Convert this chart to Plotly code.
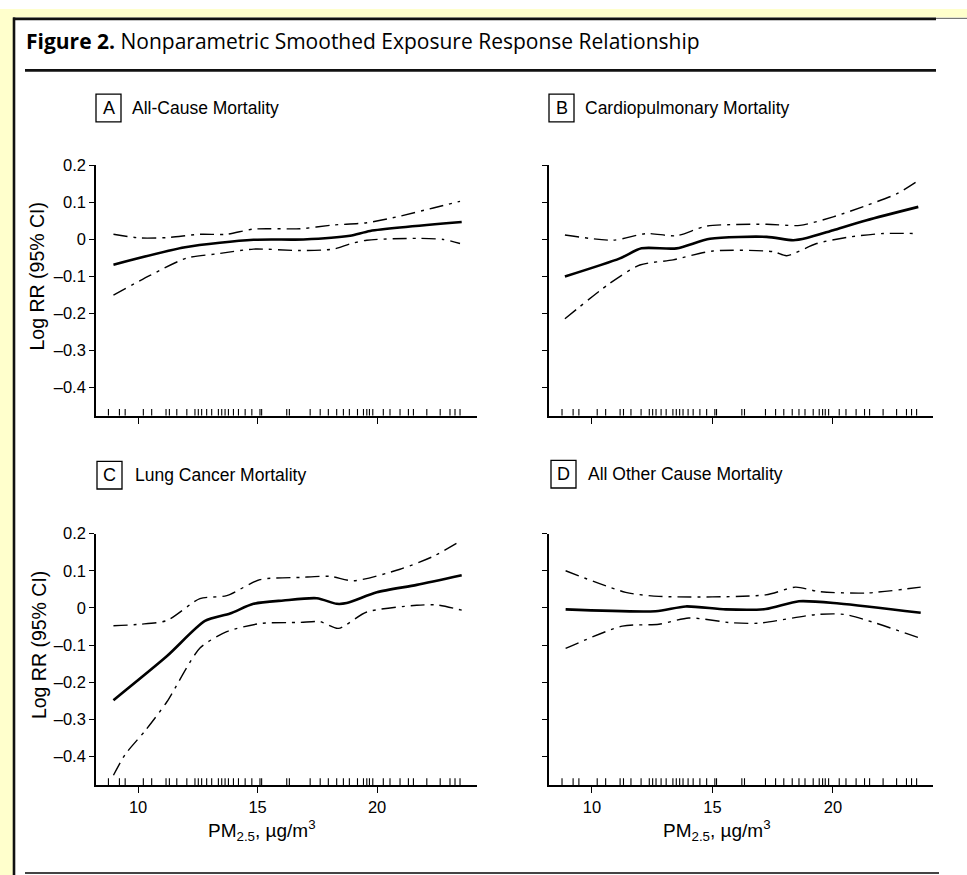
import plotly.graph_objects as go

W, H = 967, 875

FONT = "Liberation Sans, Arial, sans-serif"
TITLE_FONT = "Open Sans, Noto Sans, sans-serif"
YELLOW = "#FFFFCC"

# ---- data -------------------------------------------------------------
X_TICKS = [10, 15, 20]
Y_TICKS = [-0.4, -0.3, -0.2, -0.1, 0, 0.1, 0.2]

# PM2.5 concentrations of the study cities (rug along the x axis)
PM_RUG = [8.76, 9.22, 9.46, 10.22, 10.57, 11.17, 11.31, 11.62, 12.04, 12.38,
          12.52, 12.66, 12.87, 13.08, 13.36, 13.50, 13.64, 13.78, 13.99, 14.20,
          14.48, 14.76, 15.10, 15.17, 16.22, 16.33, 17.20, 17.62, 17.96, 18.31,
          18.59, 18.84, 19.18, 19.43, 19.57, 19.68, 19.82, 20.26, 20.54, 20.96,
          21.31, 21.52, 22.08, 22.64, 23.05, 23.26, 23.47]

# A  All-cause mortality
A_X = [8.97, 11.97, 14.83, 16.92, 18.87, 19.71, 23.54]
A_EST = [-0.068, -0.021, -0.001, 0.0, 0.010, 0.023, 0.047]
A_UP_X = [8.97, 10.08, 11.2, 12.59, 13.71, 14.83, 16.78, 18.17, 19.57, 20.96, 22.35, 23.47]
A_UP = [0.014, 0.004, 0.005, 0.014, 0.014, 0.028, 0.029, 0.039, 0.045, 0.063, 0.085, 0.103]
A_LO_X = [8.97, 10.5, 12.04, 13.29, 14.83, 16.78, 18.17, 18.87, 19.57, 21.66, 22.77, 23.47]
A_LO = [-0.150, -0.097, -0.050, -0.039, -0.026, -0.030, -0.026, -0.012, -0.002, 0.003, 0.0, -0.011]

# B  Cardiopulmonary mortality
B_X = [8.88, 11.16, 12.06, 13.51, 14.90, 17.25, 18.35, 18.91, 20.01, 21.40, 23.54]
B_EST = [-0.100, -0.051, -0.024, -0.024, 0.002, 0.007, -0.002, 0.004, 0.025, 0.052, 0.088]
B_UP_X = [8.88, 10.88, 12.27, 13.51, 14.76, 17.25, 18.63, 20.01, 21.40, 22.64, 23.54]
B_UP = [0.012, -0.002, 0.016, 0.010, 0.036, 0.041, 0.038, 0.061, 0.092, 0.123, 0.159]
B_LO_X = [8.88, 10.75, 11.99, 13.37, 15.03, 17.52, 18.08, 19.32, 20.71, 22.09, 23.54]
B_LO = [-0.214, -0.118, -0.069, -0.055, -0.031, -0.033, -0.044, -0.011, 0.007, 0.016, 0.016]

# C  Lung cancer mortality
C_X = [8.97, 11.2, 12.80, 13.85, 14.83, 16.08, 17.48, 18.31, 18.73, 19.99, 21.66, 23.54]
C_EST = [-0.248, -0.130, -0.035, -0.015, 0.011, 0.020, 0.026, 0.011, 0.013, 0.042, 0.062, 0.088]
C_UP_X = [8.97, 10.08, 11.2, 12.59, 13.71, 15.10, 16.78, 18.03, 19.01, 20.96, 22.36, 23.47]
C_UP = [-0.048, -0.044, -0.034, 0.025, 0.033, 0.076, 0.082, 0.085, 0.073, 0.104, 0.139, 0.179]
C_LO_X = [8.97, 9.46, 10.3, 11.2, 12.59, 13.71, 15.10, 16.78, 17.62, 18.38, 19.57, 21.66, 22.5, 23.54]
C_LO = [-0.450, -0.394, -0.330, -0.253, -0.108, -0.064, -0.042, -0.039, -0.037, -0.055, -0.011, 0.007, 0.008, -0.006]

# D  All other cause mortality
D_X = [8.91, 12.64, 13.89, 15.55, 17.21, 18.59, 20.25, 23.64]
D_EST = [-0.004, -0.009, 0.004, -0.004, -0.003, 0.018, 0.012, -0.013]
D_UP_X = [8.91, 11.40, 12.78, 17.21, 18.45, 19.42, 21.36, 23.64]
D_UP = [0.100, 0.042, 0.031, 0.035, 0.056, 0.044, 0.040, 0.056]
D_LO_X = [8.91, 11.26, 12.78, 14.02, 15.82, 16.93, 19.28, 20.52, 23.64]
D_LO = [-0.109, -0.049, -0.044, -0.027, -0.040, -0.041, -0.018, -0.018, -0.082]

PANEL_LETTERS = ["A", "B", "C", "D"]
PANEL_TITLES = ["All-Cause Mortality", "Cardiopulmonary Mortality",
                "Lung Cancer Mortality", "All Other Cause Mortality"]
Y_TITLE = "Log RR (95% CI)"
X_TITLE = "PM<sub>2.5</sub>, µg/m<sup>3</sup>"
FIG_TITLE = "<b>Figure 2.</b> Nonparametric Smoothed Exposure Response Relationship"

Y_RANGE = [-0.476, 0.2]
X_RANGE_LEFT = [8.24, 24.18]
X_RANGE_RIGHT = [8.22, 24.15]


def px_x(p):
    return p / W


def px_y(p):
    return 1 - p / H


# panel boxes in pixels: (left, right, top, bottom)
PANELS = [
    (96, 477, 158, 411),
    (549, 933, 158, 411),
    (96, 477, 530, 784),
    (549, 933, 530, 784),
]

series = [
    (A_X, A_EST, A_UP_X, A_UP, A_LO_X, A_LO),
    (B_X, B_EST, B_UP_X, B_UP, B_LO_X, B_LO),
    (C_X, C_EST, C_UP_X, C_UP, C_LO_X, C_LO),
    (D_X, D_EST, D_UP_X, D_UP, D_LO_X, D_LO),
]

fig = go.Figure()
DASHDOT = "14px,6px,3px,6px"
rug_len = 0.018

for i, (ex, ey, ux, uy, lx, ly) in enumerate(series):
    xa = "x" if i == 0 else f"x{i + 1}"
    ya = "y" if i == 0 else f"y{i + 1}"
    # confidence limits
    for cx, cy in ((ux, uy), (lx, ly)):
        fig.add_trace(go.Scatter(x=cx, y=cy, mode="lines", xaxis=xa, yaxis=ya,
                                 line=dict(color="black", width=1.4, dash=DASHDOT,
                                           shape="spline", smoothing=0.7),
                                 showlegend=False, hoverinfo="skip"))
    # smoothed estimate
    fig.add_trace(go.Scatter(x=ex, y=ey, mode="lines", xaxis=xa, yaxis=ya,
                             line=dict(color="black", width=2.6, shape="spline", smoothing=0.7),
                             showlegend=False, hoverinfo="skip"))
    # rug of city concentrations
    rx, ry = [], []
    for v in PM_RUG:
        rx += [v, v, None]
        ry += [Y_RANGE[0], Y_RANGE[0] + rug_len, None]
    fig.add_trace(go.Scatter(x=rx, y=ry, mode="lines", xaxis=xa, yaxis=ya,
                             line=dict(color="black", width=1.1),
                             showlegend=False, hoverinfo="skip"))

layout = dict(
    width=W, height=H,
    margin=dict(l=0, r=0, t=0, b=0),
    paper_bgcolor="white",
    plot_bgcolor="white",
    showlegend=False,
    font=dict(family=FONT, color="black"),
)


def fmt(v):
    if v == 0:
        return "0"
    s = f"{abs(v):.1f}"
    return ("–" if v < 0 else "") + s


for i, (l, r, t, b) in enumerate(PANELS):
    sx = "" if i == 0 else str(i + 1)
    left = i in (0, 2)
    bottom = i in (2, 3)
    layout[f"xaxis{sx}"] = dict(
        domain=[px_x(l), px_x(r)],
        range=X_RANGE_LEFT if left else X_RANGE_RIGHT,
        anchor=f"y{sx}",
        showline=True, linecolor="black", linewidth=1.6,
        ticks="outside", ticklen=6, tickwidth=1.4, tickcolor="black",
        tickvals=X_TICKS, ticktext=[str(v) for v in X_TICKS],
        showticklabels=bottom,
        tickfont=dict(family=FONT, size=16.5, color="black"),
        showgrid=False, zeroline=False, fixedrange=True,
    )
    layout[f"yaxis{sx}"] = dict(
        domain=[px_y(b), px_y(t)],
        range=Y_RANGE,
        anchor=f"x{sx}",
        showline=True, linecolor="black", linewidth=1.6,
        ticks="outside", ticklen=5, tickwidth=1.4, tickcolor="black",
        tickvals=Y_TICKS, ticktext=[fmt(v) for v in Y_TICKS],
        showticklabels=left,
        tickfont=dict(family=FONT, size=16.5, color="black"),
        showgrid=False, zeroline=False, fixedrange=True,
    )

fig.update_layout(**layout)

shapes = []
annotations = []

# pale yellow page edge with black frame lines and rules
shapes.append(dict(type="rect", xref="paper", yref="paper", x0=0, x1=px_x(13), y0=0, y1=1,
                   fillcolor=YELLOW, line=dict(width=0), layer="below"))
shapes.append(dict(type="rect", xref="paper", yref="paper", x0=0, x1=1, y0=px_y(8.5), y1=1,
                   fillcolor=YELLOW, line=dict(width=0), layer="below"))
shapes.append(dict(type="line", xref="paper", yref="paper", x0=px_x(14), x1=px_x(14), y0=0, y1=px_y(8.5),
                   line=dict(color="#111111", width=2.6)))
shapes.append(dict(type="line", xref="paper", yref="paper", x0=px_x(13), x1=px_x(936), y0=px_y(10), y1=px_y(10),
                   line=dict(color="#111111", width=2.6)))
shapes.append(dict(type="line", xref="paper", yref="paper", x0=px_x(936), x1=1, y0=px_y(9.5), y1=px_y(9.5),
                   line=dict(color="#777777", width=1.2)))
shapes.append(dict(type="line", xref="paper", yref="paper", x0=px_x(25), x1=px_x(936), y0=px_y(62), y1=px_y(62),
                   line=dict(color="#111111", width=2.6)))
shapes.append(dict(type="line", xref="paper", yref="paper", x0=px_x(25), x1=px_x(939), y0=px_y(873), y1=px_y(873),
                   line=dict(color="#444444", width=2)))

annotations.append(dict(text=FIG_TITLE, xref="paper", yref="paper", x=px_x(24), y=px_y(32),
                        xanchor="left", yanchor="middle", showarrow=False,
                        font=dict(family=TITLE_FONT, size=21, color="black")))

# panel captions: boxed letter followed by the title
LABEL_POS = [(96, 130, 100), (549, 583, 100), (97, 133, 471), (551, 586, 470)]
for (bx, tx, cy), letter, title in zip(LABEL_POS, PANEL_LETTERS, PANEL_TITLES):
    shapes.append(dict(type="rect", xref="paper", yref="paper",
                       x0=px_x(bx), x1=px_x(bx + 25), y0=px_y(cy + 14), y1=px_y(cy - 14),
                       line=dict(color="black", width=1.3), fillcolor="rgba(0,0,0,0)"))
    annotations.append(dict(text=letter, xref="paper", yref="paper", x=px_x(bx + 12.5), y=px_y(cy),
                            xanchor="center", yanchor="middle", showarrow=False,
                            font=dict(family=FONT, size=18, color="black")))
    annotations.append(dict(text=title, xref="paper", yref="paper", x=px_x(tx), y=px_y(cy),
                            xanchor="left", yanchor="middle", showarrow=False,
                            font=dict(family=FONT, size=17.5, color="black")))

# y-axis titles centred on the tick range, x-axis titles under the bottom panels
for ya, xpos in (("y", 37), ("y3", 39)):
    annotations.append(dict(text=Y_TITLE, xref="paper", yref=ya, x=px_x(xpos), y=-0.1,
                            xanchor="center", yanchor="middle", textangle=-90, showarrow=False,
                            font=dict(family=FONT, size=19.5, color="black")))
for xa in ("x3", "x4"):
    annotations.append(dict(text=X_TITLE, xref=xa, yref="paper", x=15.2, y=px_y(830),
                            xanchor="center", yanchor="middle", showarrow=False,
                            font=dict(family=FONT, size=19, color="black")))

fig.update_layout(shapes=shapes, annotations=annotations)

fig.write_html("out.html")
